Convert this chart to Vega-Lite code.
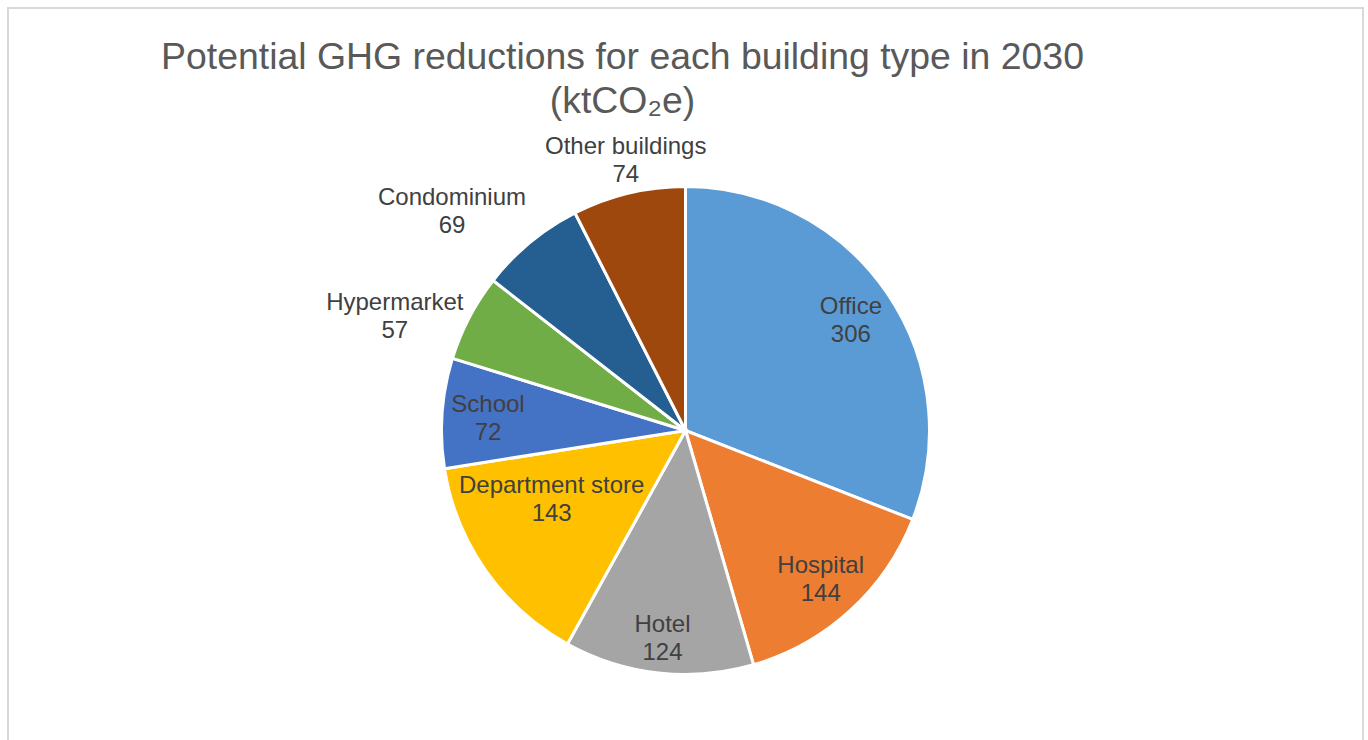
{
  "$schema": "https://vega.github.io/schema/vega-lite/v6.json",
  "autosize": {"type": "fit", "contains": "padding"},
  "width": 1368,
  "height": 740,
  "padding": {"left": 8, "right": 5, "top": 8, "bottom": -116},
  "background": "white",
  "view": {"stroke": "#d9d9d9", "strokeWidth": 2, "fill": "white"},
  "config": {
    "view": {"stroke": "#d9d9d9", "strokeWidth": 2},
    "font": "Liberation Sans",
    "text": {"font": "Liberation Sans", "fontSize": 24, "fill": "#404040", "align": "center", "baseline": "middle"}
  },
  "title": {
    "text": ["Potential GHG reductions for each building type in 2030", "(ktCO₂e)"],
    "font": "Liberation Sans",
    "fontSize": 37.4,
    "fontWeight": "normal",
    "color": "#595959",
    "anchor": "middle",
    "frame": "group",
    "offset": -112,
    "dx": -63,
    "lineHeight": 44
  },
  "data": {
    "values": [
      {"type": "Office", "value": 306},
      {"type": "Hospital", "value": 144},
      {"type": "Hotel", "value": 124},
      {"type": "Department store", "value": 143},
      {"type": "School", "value": 72},
      {"type": "Hypermarket", "value": 57},
      {"type": "Condominium", "value": 69},
      {"type": "Other buildings", "value": 74}
    ]
  },
  "transform": [{"window": [{"op": "row_number", "as": "idx"}]}],
  "encoding": {
    "theta": {"field": "value", "type": "quantitative", "stack": true},
    "order": {"field": "idx", "type": "quantitative"}
  },
  "layer": [
    {
      "mark": {"type": "arc", "outerRadius": 244, "stroke": "white", "strokeWidth": 3},
      "encoding": {
        "color": {
          "field": "type", "type": "nominal", "legend": null,
          "scale": {
            "domain": ["Office", "Hospital", "Hotel", "Department store", "School", "Hypermarket", "Condominium", "Other buildings"],
            "range": ["#5B9BD5", "#ED7D31", "#A5A5A5", "#FFC000", "#4472C4", "#70AD47", "#255E91", "#9E480E"]
          }
        }
      }
    },
    {
      "mark": {"type": "text", "radius": 199, "dx": 1, "dy": -11},
      "encoding": {
        "detail": {"field": "type", "type": "nominal"},
        "text": {"condition": {"test": "datum.type === 'Office' || datum.type === 'Hospital' || datum.type === 'School'", "field": "type", "type": "nominal"}, "value": ""}
      }
    },
    {
      "mark": {"type": "text", "radius": 199, "dx": 1, "dy": 17},
      "encoding": {
        "detail": {"field": "type", "type": "nominal"},
        "text": {"condition": {"test": "datum.type === 'Office' || datum.type === 'Hospital' || datum.type === 'School'", "field": "value", "type": "quantitative"}, "value": ""}
      }
    },
    {
      "mark": {"type": "text", "radius": 207, "dy": -11},
      "encoding": {
        "detail": {"field": "type", "type": "nominal"},
        "text": {"condition": {"test": "datum.type === 'Hotel'", "field": "type", "type": "nominal"}, "value": ""}
      }
    },
    {
      "mark": {"type": "text", "radius": 207, "dy": 17},
      "encoding": {
        "detail": {"field": "type", "type": "nominal"},
        "text": {"condition": {"test": "datum.type === 'Hotel'", "field": "value", "type": "quantitative"}, "value": ""}
      }
    },
    {
      "mark": {"type": "text", "radius": 150, "dx": -11, "dy": -31},
      "encoding": {
        "detail": {"field": "type", "type": "nominal"},
        "text": {"condition": {"test": "datum.type === 'Department store'", "field": "type", "type": "nominal"}, "value": ""}
      }
    },
    {
      "mark": {"type": "text", "radius": 150, "dx": -11, "dy": -3},
      "encoding": {
        "detail": {"field": "type", "type": "nominal"},
        "text": {"condition": {"test": "datum.type === 'Department store'", "field": "value", "type": "quantitative"}, "value": ""}
      }
    },
    {
      "mark": {"type": "text", "radius": 311, "dx": -15, "dy": 16},
      "encoding": {
        "detail": {"field": "type", "type": "nominal"},
        "text": {"condition": {"test": "datum.type === 'Hypermarket'", "field": "type", "type": "nominal"}, "value": ""}
      }
    },
    {
      "mark": {"type": "text", "radius": 311, "dx": -15, "dy": 44},
      "encoding": {
        "detail": {"field": "type", "type": "nominal"},
        "text": {"condition": {"test": "datum.type === 'Hypermarket'", "field": "value", "type": "quantitative"}, "value": ""}
      }
    },
    {
      "mark": {"type": "text", "radius": 320, "dx": -30, "dy": 14},
      "encoding": {
        "detail": {"field": "type", "type": "nominal"},
        "text": {"condition": {"test": "datum.type === 'Condominium'", "field": "type", "type": "nominal"}, "value": ""}
      }
    },
    {
      "mark": {"type": "text", "radius": 320, "dx": -30, "dy": 42},
      "encoding": {
        "detail": {"field": "type", "type": "nominal"},
        "text": {"condition": {"test": "datum.type === 'Condominium'", "field": "value", "type": "quantitative"}, "value": ""}
      }
    },
    {
      "mark": {"type": "text", "radius": 278, "dx": 5, "dy": -13},
      "encoding": {
        "detail": {"field": "type", "type": "nominal"},
        "text": {"condition": {"test": "datum.type === 'Other buildings'", "field": "type", "type": "nominal"}, "value": ""}
      }
    },
    {
      "mark": {"type": "text", "radius": 278, "dx": 5, "dy": 15},
      "encoding": {
        "detail": {"field": "type", "type": "nominal"},
        "text": {"condition": {"test": "datum.type === 'Other buildings'", "field": "value", "type": "quantitative"}, "value": ""}
      }
    }
  ]
}
